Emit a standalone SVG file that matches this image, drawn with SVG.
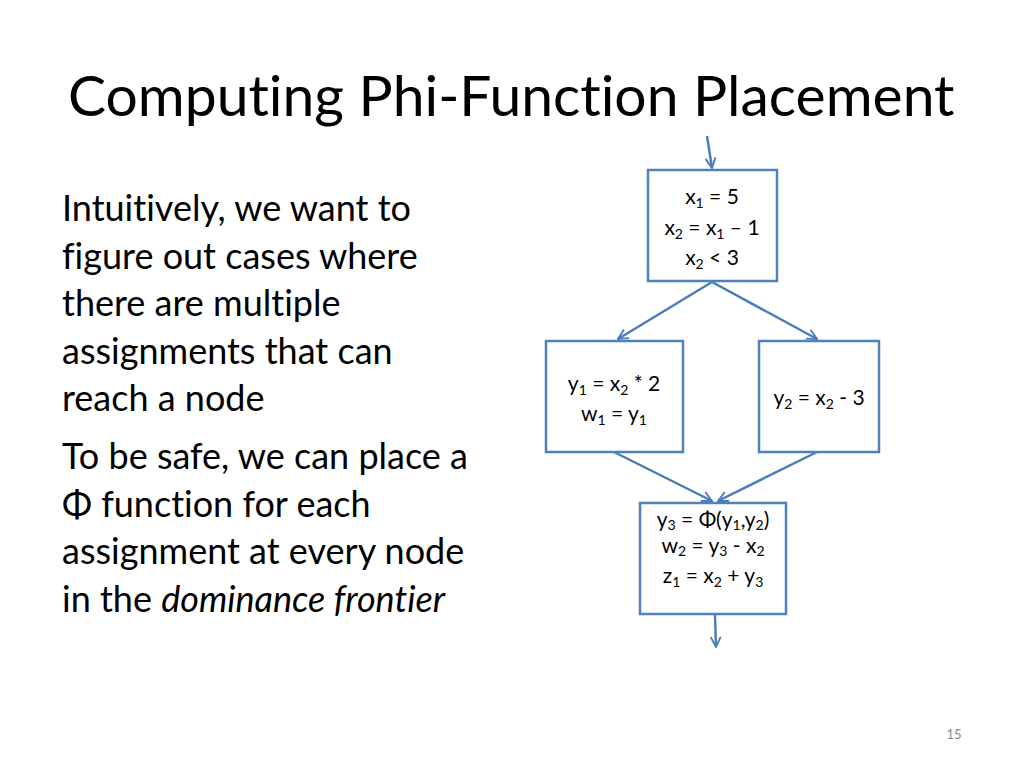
<svg xmlns="http://www.w3.org/2000/svg" width="1024" height="768" viewBox="0 0 1024 768">
<style>
text{font-family:Lato,"Open Sans",sans-serif;fill:#000;font-variant-ligatures:none}
.t{font-size:57px}
.b{font-size:36px}
.n{font-size:21px;text-anchor:middle}
.s{font-size:14px}
rect{fill:#fff;stroke:#4f81bd;stroke-width:2.5}
line{stroke:#4a7ebb;stroke-width:2.5;marker-end:url(#a)}
</style>
<defs><marker id="a" viewBox="0 0 10 10" refX="9" refY="5" markerWidth="5" markerHeight="5" orient="auto"><path d="M1,1 L9,5 L1,9" fill="none" stroke="#4a7ebb" stroke-width="1.5"/></marker></defs>
<rect x="0" y="0" width="1024" height="768" style="stroke:none"/>
<text class="t" x="68" y="116">Computing Phi-Function Placement</text>
<g id="body">
<text class="b" x="62" y="221">Intuitively, we want to</text>
<text class="b" x="62" y="269">figure out cases where</text>
<text class="b" x="62" y="316">there are multiple</text>
<text class="b" x="62" y="364">assignments that can</text>
<text class="b" x="62" y="411">reach a node</text>
<text class="b" x="62" y="469">To be safe, we can place a</text>
<text class="b" x="62" y="517">Φ function for each</text>
<text class="b" x="62" y="564">assignment at every node</text>
<text class="b" x="62" y="612">in the <tspan font-style="italic">dominance frontier</tspan></text>
</g>
<g id="connectors">
<line x1="707" y1="136" x2="712" y2="168"/>
<line x1="712" y1="282" x2="618" y2="339"/>
<line x1="712" y1="282" x2="817" y2="339"/>
<line x1="614" y1="452" x2="712" y2="501"/>
<line x1="817" y1="452" x2="718" y2="501"/>
<line x1="715" y1="615" x2="716" y2="647"/>
</g>
<g id="n1"><rect x="648" y="170" width="129" height="111"/>
<text class="n" x="712" y="204">x<tspan class="s" dy="4">1</tspan><tspan dy="-4"> = 5</tspan></text>
<text class="n" x="712" y="235">x<tspan class="s" dy="4">2</tspan><tspan dy="-4"> = x</tspan><tspan class="s" dy="4">1</tspan><tspan dy="-4"> – 1</tspan></text>
<text class="n" x="712" y="265">x<tspan class="s" dy="4">2</tspan><tspan dy="-4"> &lt; 3</tspan></text></g>
<g id="n2"><rect x="546" y="341" width="137" height="111"/>
<text class="n" x="614" y="391">y<tspan class="s" dy="4">1</tspan><tspan dy="-4"> = x</tspan><tspan class="s" dy="4">2</tspan><tspan dy="-4"> * 2</tspan></text>
<text class="n" x="614" y="421">w<tspan class="s" dy="4">1</tspan><tspan dy="-4"> = y</tspan><tspan class="s" dy="4">1</tspan></text></g>
<g id="n3"><rect x="759" y="341" width="120" height="111"/>
<text class="n" x="819" y="405">y<tspan class="s" dy="4">2</tspan><tspan dy="-4"> = x</tspan><tspan class="s" dy="4">2</tspan><tspan dy="-4"> - 3</tspan></text></g>
<g id="n4"><rect x="640" y="503" width="146" height="111"/>
<text class="n" x="713" y="527">y<tspan class="s" dy="3">3</tspan><tspan dy="-3"> = Φ(y</tspan><tspan class="s" dy="3">1</tspan><tspan dy="-3">,y</tspan><tspan class="s" dy="3">2</tspan><tspan dy="-3">)</tspan></text>
<text class="n" x="713" y="553">w<tspan class="s" dy="3">2</tspan><tspan dy="-3"> = y</tspan><tspan class="s" dy="3">3</tspan><tspan dy="-3"> - x</tspan><tspan class="s" dy="3">2</tspan></text>
<text class="n" x="713" y="583">z<tspan class="s" dy="4">1</tspan><tspan dy="-4"> = x</tspan><tspan class="s" dy="4">2</tspan><tspan dy="-4"> + y</tspan><tspan class="s" dy="4">3</tspan></text></g>
<text x="954" y="739" style="font-size:13px;fill:#888;text-anchor:middle">15</text>
</svg>
